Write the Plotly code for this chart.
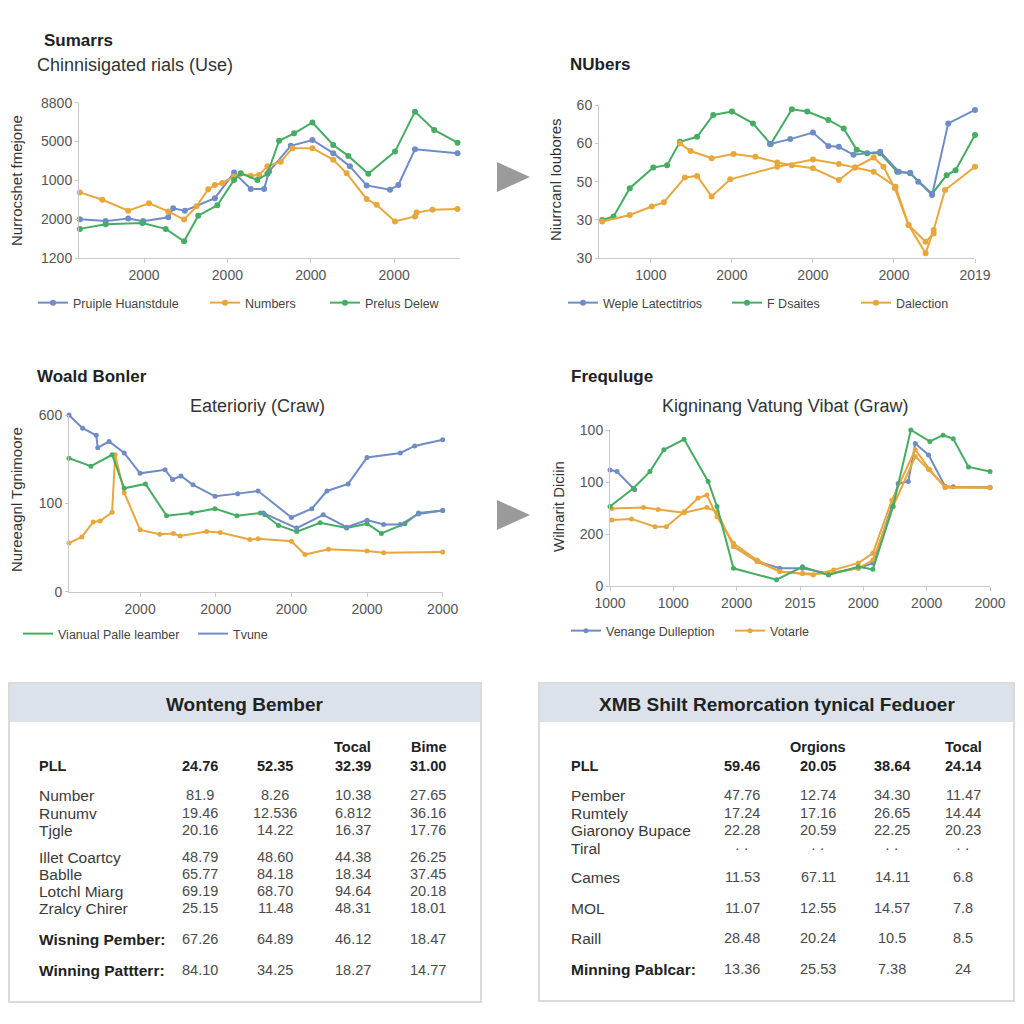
import plotly.graph_objects as go

# The page body has an 8px default margin; the figure is sized so that it fills the
# 1024x1024 window exactly (8 px margin + 1008 px figure + 8 px margin).
PAGE_OFF = 8
W = H = 1008
FONT = "Liberation Sans, Arial, sans-serif"
BLUE = "#6f8cc6"
ORANGE = "#e8a73c"
GREEN = "#45ad62"
GRAY_TXT = "#555555"

# ---------------- Chart 1 data ----------------
c1_title = "Sumarrs"
c1_sub = "Chinnisigated rials (Use)"
c1_ytitle = "Nurrocshet fmejone"
c1_xtickvals = [10, 20, 30, 40]
c1_xticktext = ["2000", "2000", "2000", "2000"]
c1_ytickvals = [0, 10, 20, 30, 40]
c1_yticktext = ["1200", "2000", "1000", "5000", "8800"]
c1_blue_name = "Pruiple Huanstdule"
c1_blue_x = [2.3, 5.4, 8.1, 9.9, 12.9, 13.5, 14.9, 18.5, 20.8, 22.8, 24.4, 25.0, 27.6, 30.2, 32.7, 34.7, 36.7, 39.5, 40.5, 42.5, 47.6]
c1_blue_y = [10.0, 9.5, 10.2, 9.5, 10.5, 12.8, 12.2, 15.4, 22.0, 17.8, 17.8, 22.3, 28.9, 30.4, 27.0, 23.6, 18.7, 17.6, 18.8, 28.0, 27.0]
c1_orange_name = "Numbers"
c1_orange_x = [2.3, 5.0, 8.1, 10.6, 12.9, 14.8, 16.3, 17.7, 18.5, 19.4, 20.8, 21.6, 22.8, 23.8, 24.8, 26.4, 27.8, 30.2, 32.7, 34.3, 36.7, 37.9, 40.1, 42.5, 42.7, 44.6, 47.6]
c1_orange_y = [16.9, 15.0, 12.2, 14.1, 12.0, 9.9, 13.3, 17.7, 18.8, 19.3, 21.0, 21.7, 21.2, 21.4, 23.6, 24.8, 28.3, 28.3, 25.3, 21.8, 15.2, 13.7, 9.4, 10.7, 11.7, 12.4, 12.6]
c1_green_name = "Prelus Delew"
c1_green_x = [2.3, 5.4, 9.8, 12.6, 14.8, 16.5, 18.8, 20.8, 21.6, 23.6, 24.8, 26.2, 28.0, 30.2, 32.7, 34.5, 36.9, 40.1, 42.5, 44.8, 47.6]
c1_green_y = [7.5, 8.7, 9.0, 7.5, 4.3, 10.9, 13.6, 20.1, 21.8, 20.1, 21.7, 30.2, 32.1, 34.9, 29.1, 26.3, 21.7, 27.4, 37.7, 33.0, 29.7]

# ---------------- Chart 2 data ----------------
c2_title = "NUbers"
c2_ytitle = "Niurrcanl Ioubores"
c2_xtickvals = [10, 20, 30, 40, 50]
c2_xticktext = ["1000", "2000", "2000", "2000", "2019"]
c2_ytickvals = [0, 10, 20, 30, 40]
c2_yticktext = ["30", "30", "50", "60", "60"]
c2_blue_name = "Weple Latectitrios"
c2_blue_x = [24.7, 27.2, 30.0, 31.9, 33.2, 35.0, 38.3, 40.6, 42.0, 43.0, 44.7, 46.7, 50.0]
c2_blue_y = [29.8, 31.1, 32.8, 29.3, 29.1, 27.0, 27.8, 22.6, 22.3, 20.0, 16.5, 35.2, 38.7]
c2_green_name = "F Dsaites"
c2_green_x = [4.0, 5.4, 7.4, 10.3, 12.0, 13.6, 15.7, 17.7, 20.0, 22.6, 24.8, 27.4, 29.3, 31.9, 33.8, 35.4, 36.7, 38.3, 40.4, 42.0, 44.7, 46.5, 47.6, 50.0]
c2_green_y = [10.0, 10.9, 18.3, 23.7, 24.3, 30.4, 31.7, 37.4, 38.3, 35.2, 29.8, 38.9, 38.3, 36.1, 33.9, 28.3, 27.4, 27.4, 22.6, 22.2, 16.8, 21.7, 23.0, 32.2]
c2_orange_name = "Dalection"
c2_orange_x = [4.0, 7.4, 10.1, 11.6, 14.2, 15.7, 17.5, 19.8, 25.6, 30.0, 33.2, 35.2, 37.5, 38.7, 40.1, 41.8, 43.9, 44.9, 46.3, 50.0]
c2_orange_y = [9.6, 11.3, 13.5, 14.6, 21.1, 21.5, 16.1, 20.6, 23.9, 25.8, 24.6, 23.7, 26.3, 23.9, 18.3, 8.7, 1.3, 7.4, 17.8, 23.9]
c2_orange2_x = [13.6, 14.9, 17.5, 20.2, 22.9, 25.6, 27.4, 30.0, 33.2, 35.2, 37.5, 40.2, 41.8, 43.9, 44.9]
c2_orange2_y = [30.0, 28.0, 26.1, 27.2, 26.5, 25.0, 24.3, 23.5, 20.4, 23.7, 22.6, 18.7, 8.7, 4.3, 6.5]

# ---------------- Chart 3 data ----------------
c3_title = "Woald Bonler"
c3_sub = "Eaterioriy (Craw)"
c3_ytitle = "Nureeagnl Tgnimoore"
c3_xtickvals = [10, 20, 30, 40, 50]
c3_xticktext = ["2000", "2000", "2000", "2000", "2000"]
c3_ytickvals = [0, 10, 20]
c3_yticktext = ["0", "100", "600"]
c3_green_name = "Vianual Palle leamber"
c3_green_x = [0.6, 3.5, 6.3, 7.9, 10.7, 13.5, 16.8, 19.9, 22.8, 25.9, 26.5, 28.3, 30.7, 33.8, 37.3, 40.0, 41.9, 45.0, 46.8, 50.0]
c3_green_y = [15.1, 14.2, 15.5, 11.7, 12.2, 8.6, 8.9, 9.4, 8.6, 8.9, 8.7, 7.5, 6.8, 7.8, 7.2, 7.7, 6.6, 7.7, 8.9, 9.2]
c3_blue_name = "Tvune"
c3_blue_x = [0.6, 2.4, 4.2, 4.4, 5.9, 7.9, 10.0, 13.3, 14.3, 15.4, 17.0, 19.9, 22.9, 25.6, 30.0, 32.7, 34.7, 37.5, 40.0, 44.4, 46.3, 50.0]
c3_blue_y = [20.0, 18.5, 17.7, 16.3, 17.0, 15.7, 13.4, 13.8, 12.7, 13.1, 12.1, 10.8, 11.1, 11.4, 8.4, 9.4, 11.4, 12.2, 15.2, 15.7, 16.5, 17.2]
c3_blue2_x = [26.3, 30.7, 34.2, 37.3, 40.0, 42.2, 44.4, 46.8, 50.0]
c3_blue2_y = [8.9, 7.2, 8.7, 7.3, 8.1, 7.6, 7.6, 8.8, 9.2]
c3_orange_x = [0.6, 2.3, 3.8, 4.7, 6.3, 6.7, 7.9, 10.0, 12.6, 14.4, 15.3, 18.8, 20.6, 24.5, 25.6, 30.0, 31.8, 34.9, 40.0, 42.2, 50.0]
c3_orange_y = [5.5, 6.2, 7.9, 8.0, 9.0, 15.5, 11.2, 7.0, 6.5, 6.6, 6.3, 6.8, 6.7, 5.9, 6.0, 5.7, 4.2, 4.8, 4.6, 4.4, 4.5]

# ---------------- Chart 4 data ----------------
c4_title = "Frequluge"
c4_sub = "Kigninang Vatung Vibat (Graw)"
c4_ytitle = "Wilnarit Diciin"
c4_xtickvals = [0, 10, 20, 30, 40, 50, 60]
c4_xticktext = ["1000", "1000", "2000", "2015", "2000", "2000", "2000"]
c4_ytickvals = [0, 10, 20, 30]
c4_yticktext = ["0", "200", "100", "100"]
c4_blue_name = "Venange Dulleption"
c4_blue_x = [0.0, 1.1, 3.9, None, 19.5, 23.4, 26.8, 30.4, 34.5, 39.2, 41.5, 44.5, 45.5, 47.1, 48.2, 50.3, 52.9, 54.2, 60.0]
c4_blue_y = [22.3, 22.0, 18.5, None, 7.6, 4.7, 3.4, 3.4, 2.4, 3.4, 4.4, 15.3, 19.7, 20.1, 27.4, 25.2, 19.2, 19.1, 19.0]
c4_orange_name = "Votarle"
c4_orange_x = [0.3, 5.3, 7.6, 11.7, 15.3, 16.9, 19.5, 23.2, 26.8, 30.4, 32.1, 35.3, 39.2, 41.5, 44.5, 48.2, 50.5, 52.9, 60.0]
c4_orange_y = [14.9, 15.1, 14.7, 14.1, 15.1, 14.3, 7.6, 4.7, 2.8, 2.4, 2.1, 3.1, 4.4, 6.3, 16.5, 26.2, 22.4, 18.9, 18.9]
c4_orange2_x = [0.3, 3.4, 7.1, 8.9, 11.7, 13.9, 15.3, 16.9, 19.5, 23.2, 26.8, 30.4, 34.5, 39.2, 41.5, 44.7, 48.2, 50.3, 52.9, 60.0]
c4_orange2_y = [12.7, 12.9, 11.4, 11.4, 14.3, 16.9, 17.5, 13.3, 8.2, 5.0, 2.8, 2.4, 2.4, 3.4, 5.0, 15.3, 24.9, 22.4, 19.1, 18.9]
c4_green_x = [0.0, 3.7, 6.3, 8.5, 11.7, 15.5, 16.9, 19.5, 26.3, 30.4, 34.5, 39.2, 41.5, 44.7, 47.5, 50.5, 52.6, 54.2, 56.6, 60.0]
c4_green_y = [15.3, 18.8, 22.0, 26.2, 28.2, 20.1, 15.3, 3.4, 1.2, 3.7, 2.1, 3.7, 3.2, 15.3, 30.0, 27.8, 29.0, 28.3, 22.9, 22.0]

# ---------------- Table data ----------------
t1_title = "Wonteng Bember"
t1_colheads = ["", "", "Tocal", "Bime"]
t1_labels = ["PLL", "Number", "Runumv", "Tjgle", "Illet Coartcy", "Bablle", "Lotchl Miarg",
             "Zralcy Chirer", "Wisning Pember:", "Winning Pattterr:"]
t1_values = [
    ["24.76", "52.35", "32.39", "31.00"],
    ["81.9", "8.26", "10.38", "27.65"],
    ["19.46", "12.536", "6.812", "36.16"],
    ["20.16", "14.22", "16.37", "17.76"],
    ["48.79", "48.60", "44.38", "26.25"],
    ["65.77", "84.18", "18.34", "37.45"],
    ["69.19", "68.70", "94.64", "20.18"],
    ["25.15", "11.48", "48.31", "18.01"],
    ["67.26", "64.89", "46.12", "18.47"],
    ["84.10", "34.25", "18.27", "14.77"],
]
t1_bold_labels = ["PLL", "Wisning Pember:", "Winning Pattterr:"]

t2_title = "XMB Shilt Remorcation tynical Feduoer"
t2_colheads = ["", "Orgions", "", "Tocal"]
t2_labels = ["PLL", "Pember", "Rumtely", "Giaronoy Bupace", "Tiral", "Cames", "MOL", "Raill",
             "Minning Pablcar:"]
t2_values = [
    ["59.46", "20.05", "38.64", "24.14"],
    ["47.76", "12.74", "34.30", "11.47"],
    ["17.24", "17.16", "26.65", "14.44"],
    ["22.28", "20.59", "22.25", "20.23"],
    ["· ·", "· ·", "· ·", "· ·"],
    ["11.53", "67.11", "14.11", "6.8"],
    ["11.07", "12.55", "14.57", "7.8"],
    ["28.48", "20.24", "10.5", "8.5"],
    ["13.36", "25.53", "7.38", "24"],
]
t2_bold_labels = ["PLL", "Minning Pablcar:"]

# ---------------- helpers (page pixel -> paper fraction) ----------------
def px(x):
    return (x - PAGE_OFF) / W

def py(y):
    return 1 - (y - PAGE_OFF) / H

fig = go.Figure()

def axis_style(dom, rng, tv, tt, is_x):
    d = dict(domain=dom, range=rng, tickvals=tv, ticktext=tt, showgrid=False, zeroline=False,
             showline=True, linecolor="#c9c9c9", linewidth=1, ticks="outside", ticklen=4 if is_x else 3,
             tickcolor="#c9c9c9", tickfont=dict(family=FONT, size=14, color=GRAY_TXT), fixedrange=True,
             automargin=False)
    return d

legend_count = [0]
legends = {}

def new_legend(text_x, y):
    legend_count[0] += 1
    name = "legend" if legend_count[0] == 1 else f"legend{legend_count[0]}"
    legends[name] = dict(x=px(text_x - 40), y=py(y), xanchor="left", yanchor="middle",
                         orientation="h", bgcolor="rgba(0,0,0,0)", borderwidth=0,
                         font=dict(family=FONT, size=12.5, color="#444"), itemclick=False)
    return name

def add_line(xs, ys, color, ax, name=None, legend_text_x=None, legend_y=None, msize=6,
             legend_lines_only=False):
    xa, ya = ax
    show = name is not None and not legend_lines_only
    lg = None
    if name is not None:
        lg = new_legend(legend_text_x, legend_y)
    fig.add_trace(go.Scatter(x=xs, y=ys, mode="lines+markers", xaxis=xa, yaxis=ya,
                             line=dict(color=color, width=2), marker=dict(color=color, size=msize),
                             name=name if name else "", showlegend=show, legend=lg if show else None,
                             cliponaxis=False, hoverinfo="skip"))
    if name is not None and legend_lines_only:
        fig.add_trace(go.Scatter(x=[None], y=[None], mode="lines", xaxis=xa, yaxis=ya,
                                 line=dict(color=color, width=2), name=name, showlegend=True,
                                 legend=lg, hoverinfo="skip"))

# Chart 1
add_line(c1_blue_x, c1_blue_y, BLUE, ("x", "y"), c1_blue_name, 73, 303)
add_line(c1_orange_x, c1_orange_y, ORANGE, ("x", "y"), c1_orange_name, 245, 303)
add_line(c1_green_x, c1_green_y, GREEN, ("x", "y"), c1_green_name, 365, 303)

# Chart 2
add_line(c2_green_x, c2_green_y, GREEN, ("x2", "y2"), c2_green_name, 767, 303)
add_line(c2_orange2_x, c2_orange2_y, ORANGE, ("x2", "y2"))
add_line(c2_orange_x, c2_orange_y, ORANGE, ("x2", "y2"), c2_orange_name, 896, 303)
add_line(c2_blue_x, c2_blue_y, BLUE, ("x2", "y2"), c2_blue_name, 603, 303)

# Chart 3
add_line(c3_orange_x, c3_orange_y, ORANGE, ("x3", "y3"), msize=5)
add_line(c3_green_x, c3_green_y, GREEN, ("x3", "y3"), c3_green_name, 58, 634, msize=5, legend_lines_only=True)
add_line(c3_blue2_x, c3_blue2_y, BLUE, ("x3", "y3"), msize=5)
add_line(c3_blue_x, c3_blue_y, BLUE, ("x3", "y3"), c3_blue_name, 233, 634, msize=5, legend_lines_only=True)

# Chart 4
add_line(c4_blue_x, c4_blue_y, BLUE, ("x4", "y4"), c4_blue_name, 606, 631, msize=5)
add_line(c4_orange2_x, c4_orange2_y, ORANGE, ("x4", "y4"), msize=5)
add_line(c4_orange_x, c4_orange_y, ORANGE, ("x4", "y4"), c4_orange_name, 770, 631, msize=5)
add_line(c4_green_x, c4_green_y, GREEN, ("x4", "y4"), msize=5)

layout = dict(
    width=W, height=H, autosize=False, margin=dict(l=0, r=0, t=0, b=0, pad=0, autoexpand=False),
    paper_bgcolor="white", plot_bgcolor="white", hovermode=False,
    font=dict(family=FONT, color="#333"),
    xaxis=axis_style([px(79), px(460)], [2.2, 47.9], c1_xtickvals, c1_xticktext, True),
    yaxis=axis_style([py(258), py(102.7)], [0, 40], c1_ytickvals, c1_yticktext, False),
    xaxis2=axis_style([px(599), px(975)], [3.6, 50], c2_xtickvals, c2_xticktext, True),
    yaxis2=axis_style([py(258.3), py(105)], [0, 40], c2_ytickvals, c2_yticktext, False),
    xaxis3=axis_style([px(69), px(442.7)], [0.6, 50], c3_xtickvals, c3_xticktext, True),
    yaxis3=axis_style([py(591.7), py(415)], [0, 20], c3_ytickvals, c3_yticktext, False),
    xaxis4=axis_style([px(610), px(990)], [0, 60], c4_xtickvals, c4_xticktext, True),
    yaxis4=axis_style([py(586), py(430)], [0, 30], c4_ytickvals, c4_yticktext, False),
)
layout["yaxis"]["anchor"] = "x"
layout["xaxis"]["anchor"] = "y"
layout["yaxis2"]["anchor"] = "x2"
layout["xaxis2"]["anchor"] = "y2"
layout["yaxis3"]["anchor"] = "x3"
layout["xaxis3"]["anchor"] = "y3"
layout["yaxis4"]["anchor"] = "x4"
layout["xaxis4"]["anchor"] = "y4"
layout.update(legends)
fig.update_layout(**layout)

ann = []
def text(x, y, s, size=14, bold=False, color="#333", xanchor="left", angle=0):
    ann.append(dict(x=px(x), y=py(y), xref="paper", yref="paper", text=f"<b>{s}</b>" if bold else s,
                    showarrow=False, xanchor=xanchor, yanchor="middle", textangle=angle,
                    font=dict(family=FONT, size=size, color=color)))

# Chart titles
text(42, 40, c1_title, 17, True, "#222")
text(35, 65, c1_sub, 18, False, "#333")
text(16, 181, c1_ytitle, 15, False, "#333", "center", -90)
text(568, 64, c2_title, 17, True, "#222")
text(555, 180, c2_ytitle, 15, False, "#333", "center", -90)
text(35, 376, c3_title, 17, True, "#222")
text(257, 406, c3_sub, 18, False, "#333", "center")
text(16, 500, c3_ytitle, 15, False, "#333", "center", -90)
text(569, 376, c4_title, 17, True, "#222")
text(785, 406, c4_sub, 18, False, "#333", "center")
text(558, 507, c4_ytitle, 15, False, "#333", "center", -90)

shapes = []
# arrows between charts
for cy in (177, 515):
    shapes.append(dict(type="path", xref="paper", yref="paper",
                       path=f"M {px(497)} {py(cy-15)} L {px(530)} {py(cy)} L {px(497)} {py(cy+15)} Z",
                       fillcolor="#9a9a9a", line=dict(width=0)))

def table(x0, x1, y0, y1, title, colheads, labels, values, bold_labels, label_x, col_x, row_y, head_y):
    shapes.append(dict(type="rect", xref="paper", yref="paper", x0=px(x0), x1=px(x1), y0=py(y1), y1=py(y0),
                       fillcolor="white", line=dict(color="#cfcfcf", width=1.5)))
    shapes.append(dict(type="rect", xref="paper", yref="paper", x0=px(x0 + 1), x1=px(x1 - 1), y0=py(y0 + 39),
                       y1=py(y0 + 1), fillcolor="#dbe2ec", line=dict(width=0)))
    text((x0 + x1) / 2, y0 + 21, title, 19, True, "#222", "center")
    for c, h in enumerate(colheads):
        if h:
            text(col_x[c], head_y, h, 14.5, True, "#222", "center")
    for r, lab in enumerate(labels):
        header_row = r == 0
        text(label_x, row_y[r], lab, 15.5 if not header_row else 14.5, lab in bold_labels,
             "#222" if lab in bold_labels else "#3a3a3a")
        for c, v in enumerate(values[r]):
            text(col_x[c], row_y[r], v, 14.5, header_row, "#222" if header_row else "#4a4a4a", "center")

table(9, 481, 683, 1002, t1_title, t1_colheads, t1_labels, t1_values, t1_bold_labels,
      37, [200, 275, 352.5, 428], [766, 795, 813, 830, 857, 874, 891, 908, 939, 970], 747)
table(539, 1014, 683, 1001, t2_title, t2_colheads, t2_labels, t2_values, t2_bold_labels,
      569, [742, 818, 892, 963], [766, 795, 813, 830, 848, 877, 908, 938, 969], 747)

fig.update_layout(annotations=ann, shapes=shapes)
fig.write_html("out.html")
